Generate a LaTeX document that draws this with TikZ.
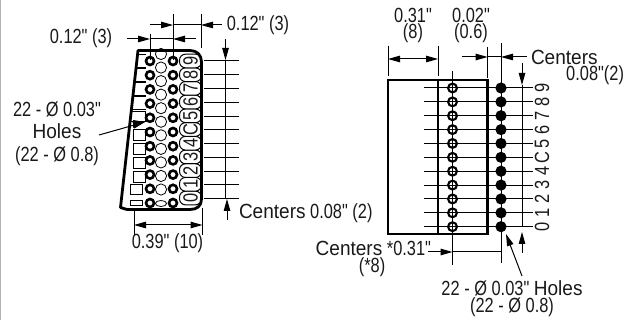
\documentclass[tikz,border=0pt]{standalone}
\usepackage{fontspec}
\setmainfont[FakeStretch=0.8,Ligatures=TeXOff]{Liberation Sans}
\usetikzlibrary{arrows.meta}
\newcommand{\wideword}[1]{\scalebox{1.16}[1]{#1}}
\tikzset{
  x=1pt,y=-1pt,
  every node/.style={inner sep=0pt,outer sep=0pt,text=black!90,font=\fontsize{20.5}{21}\selectfont},
  tightlines/.style={align=center,font=\fontsize{20.5}{16.5}\selectfont},
  holelines/.style={align=center,font=\fontsize{20.5}{22.5}\selectfont},
  dimline/.style={draw=black,line width=1pt},
  tip/.style={dimline,-{Triangle[length=12pt,width=6.5pt]},shorten >=0pt},
  outline/.style={draw=black,line width=2.8pt},
  pin/.style={draw=black,fill=white,line width=2.6pt},
  oval/.style={draw=black,fill=white,line width=0.8pt},
  capsule/.style={draw=black,fill=white,line width=1pt,rounded corners=6pt},
  pad/.style={draw=black,fill=white,line width=1pt},
  digit/.style={rotate=90,anchor=center},
}
\begin{document}
\begin{tikzpicture}
\useasboundingbox (0,0) rectangle (634,320);
\draw[black!30,line width=1.2pt] (0.6,0) -- (0.6,320);

% ---- left device
\fill[white]
  (138,50.5) -- (190,50.5) .. controls (197,50.5) and (201.5,55) .. (201.5,62)
  -- (201.5,199) .. controls (201.5,206) and (197,209.5) .. (190,209.5)
  -- (127,209.5) -- (120.5,207.5) -- cycle;
% pad rows (clipped by the sloped side)
\begin{scope}
\clip (139,52) -- (146,52) -- (146,209) -- (121,209) -- cycle;
\foreach \y in {61,75,89,103} \draw[pad] (130,\y-6.5) rectangle (146,\y+6.5);
\foreach \y in {117} \draw[pad] (130,\y-5) rectangle (145,\y+5);
\end{scope}
\fill[black] (133,120) -- (145,122) -- (133,128) -- cycle;
\foreach \y in {135,149,163,177} \draw[pad] (133,\y-5.5) rectangle (145,\y+5.5);
\draw[pad] (130,185) rectangle (142,195);
\draw[pad] (130,200.5) rectangle (142,205.5);
% centre ovals
\foreach \i in {0,...,10} {\pgfmathsetmacro\yy{54+\i*13.55}\draw[oval] (161,\yy) ellipse (5.6 and 5.6);}
\draw[oval] (161,203.5) ellipse (5.6 and 3);
% capsules with digits
\foreach \d/\i in {0/0,1/1,2/2,3/3,4/4,C/5,5/6,6/7,7/8,8/9,9/10} {
  \pgfmathsetmacro\yy{198-\i*13.7}
  \draw[capsule] (179.5,\yy-6.85) rectangle (201.5,\yy+6.85);
  \node[digit] (ld\i) at (190.5,\yy) {\d};
}
% outline on top
\draw[outline,line join=round]
  (138,50.5) -- (190,50.5) .. controls (197,50.5) and (201.5,55) .. (201.5,62)
  -- (201.5,199) .. controls (201.5,206) and (197,209.5) .. (190,209.5)
  -- (127,209.5) -- (120.5,207.5) -- cycle;
% pins
\foreach \i in {0,...,10} {\pgfmathsetmacro\yy{61+\i*14.2}
  \draw[pin] (150,\yy) circle (4); \draw[pin] (173,\yy) circle (4);}
% row lines
\foreach \i in {0,...,10} {\pgfmathsetmacro\yy{61+\i*13.77}
  \draw[dimline] (204,\yy) -- (239,\yy);}
% left dimensions
\coordinate (a1) at (150,34); \coordinate (a2) at (150,60);
\coordinate (b1) at (173,14); \coordinate (b2) at (173,60);
\coordinate (c1) at (201,14); \coordinate (c2) at (201,48);
\draw[dimline] (a1)--(a2); \draw[dimline] (b1)--(b2); \draw[dimline] (c1)--(c2);
\coordinate (d1) at (150,25); \coordinate (d2) at (173,25); \coordinate (d3) at (201,25); \coordinate (d4) at (222,25);
\draw[tip] (d1)--(d2); \draw[dimline] (d2)--(d3); \draw[tip] (d4)--(d3);
\coordinate (e1) at (127,39); \coordinate (e2) at (150,39); \coordinate (e3) at (173,39); \coordinate (e4) at (196,39);
\draw[tip] (e1)--(e2); \draw[dimline] (e2)--(e3); \draw[tip] (e4)--(e3);
\coordinate (f1) at (225.5,39); \coordinate (f2) at (225.5,60); \coordinate (f3) at (225.5,198.7);
\draw[tip] (f1)--(f2); \draw[dimline] (f2)--(f3);
\coordinate (g1) at (227,220); \coordinate (g2) at (227,199);
\draw[tip] (g1)--(g2);
\coordinate (h1) at (134,208); \coordinate (h2) at (134,235); \coordinate (h3) at (202.5,208); \coordinate (h4) at (202.5,235);
\draw[dimline] (h1)--(h2); \draw[dimline] (h3)--(h4);
\coordinate (i1) at (134,225); \coordinate (i2) at (202.5,225);
\draw[dimline,{Triangle[length=12pt,width=6.5pt]}-{Triangle[length=12pt,width=6.5pt]}] (i1)--(i2);
\coordinate (j1) at (99,135); \coordinate (j2) at (145,122);
\draw[tip] (j1)--(j2);

\node (t1) at (81,38) {0.12" (3)};
\node (t2) at (258,25) {0.12" (3)};
\node[holelines] (t3) at (57,133.5) {22 - Ø 0.03"\\\wideword{Holes}\\(22 - Ø 0.8)};
\node[anchor=west] (t6) at (239,213) {\wideword{Centers} 0.08" (2)};
\node (t7) at (167.5,243) {0.39" (10)};

% ---- right device
\draw[outline] (388,80) rectangle (487.7,234);
\draw[outline] (438,80) -- (438,234);
\foreach \i in {0,...,10} {\pgfmathsetmacro\yy{88+\i*13.87}
  \draw[dimline] (424,\yy) -- (533,\yy);
  \draw[draw=black,fill=none,line width=2.1pt] (452.5,\yy) circle (4.4);
  \fill[black] (501,\yy) circle (5.6);}
\foreach \d/\i in {9/0,8/1,7/2,6/3,5/4,C/5,4/6,3/7,2/8,1/9,0/10} {
  \pgfmathsetmacro\yy{88+\i*13.87}
  \node[digit] (rd\i) at (542,\yy) {\d};}
\coordinate (k1) at (388,46); \coordinate (k2) at (388,76); \coordinate (k3) at (438,46); \coordinate (k4) at (438,76);
\draw[dimline] (k1)--(k2); \draw[dimline] (k3)--(k4);
\coordinate (l1) at (388,59); \coordinate (l2) at (438,59);
\draw[dimline,{Triangle[length=12pt,width=6.5pt]}-{Triangle[length=12pt,width=6.5pt]}] (l1)--(l2);
\coordinate (m1) at (487.7,47); \coordinate (m2) at (487.7,78); \coordinate (m3) at (501,43); \coordinate (m4) at (501,263);
\draw[dimline] (m1)--(m2); \draw[dimline] (m3)--(m4);
\coordinate (n1) at (452.5,71); \coordinate (n2) at (452.5,265);
\draw[dimline] (n1)--(n2);
\coordinate (o1) at (462,57); \coordinate (o2) at (487.7,57); \coordinate (o3) at (501,57); \coordinate (o4) at (527,57);
\draw[tip] (o1)--(o2); \draw[dimline] (o2)--(o3); \draw[tip] (o4)--(o3);
\coordinate (p1) at (522,63); \coordinate (p2) at (522,85); \coordinate (p3) at (522,227);
\draw[tip] (p1)--(p2); \draw[dimline] (p2)--(p3);
\coordinate (q1) at (522,253); \coordinate (q2) at (522,232);
\draw[tip] (q1)--(q2);
\coordinate (r1) at (428,252); \coordinate (r2) at (452.5,252); \coordinate (r3) at (501,252);
\draw[tip] (r1)--(r2); \draw[dimline] (r2)--(r3);
\coordinate (s1) at (522,276); \coordinate (s2) at (506,234);
\draw[tip] (s1)--(s2);

\node[tightlines] (u1) at (413,25.5) {0.31"\\(8)};
\node[tightlines] (u3) at (471,25.5) {0.02"\\(0.6)};
\node[anchor=west] (u5) at (531,57) {\wideword{Centers}};
\node[anchor=east] (u6) at (624,75) {0.08"(2)};
\node[anchor=east] (u7) at (431,248) {\wideword{Centers} *0.31"};
\node (u8) at (372,267) {(*8)};
\node[tightlines] (u9) at (512,298.5) {22 - Ø 0.03" \wideword{Holes}\\(22 - Ø 0.8)};
\end{tikzpicture}
\end{document}
